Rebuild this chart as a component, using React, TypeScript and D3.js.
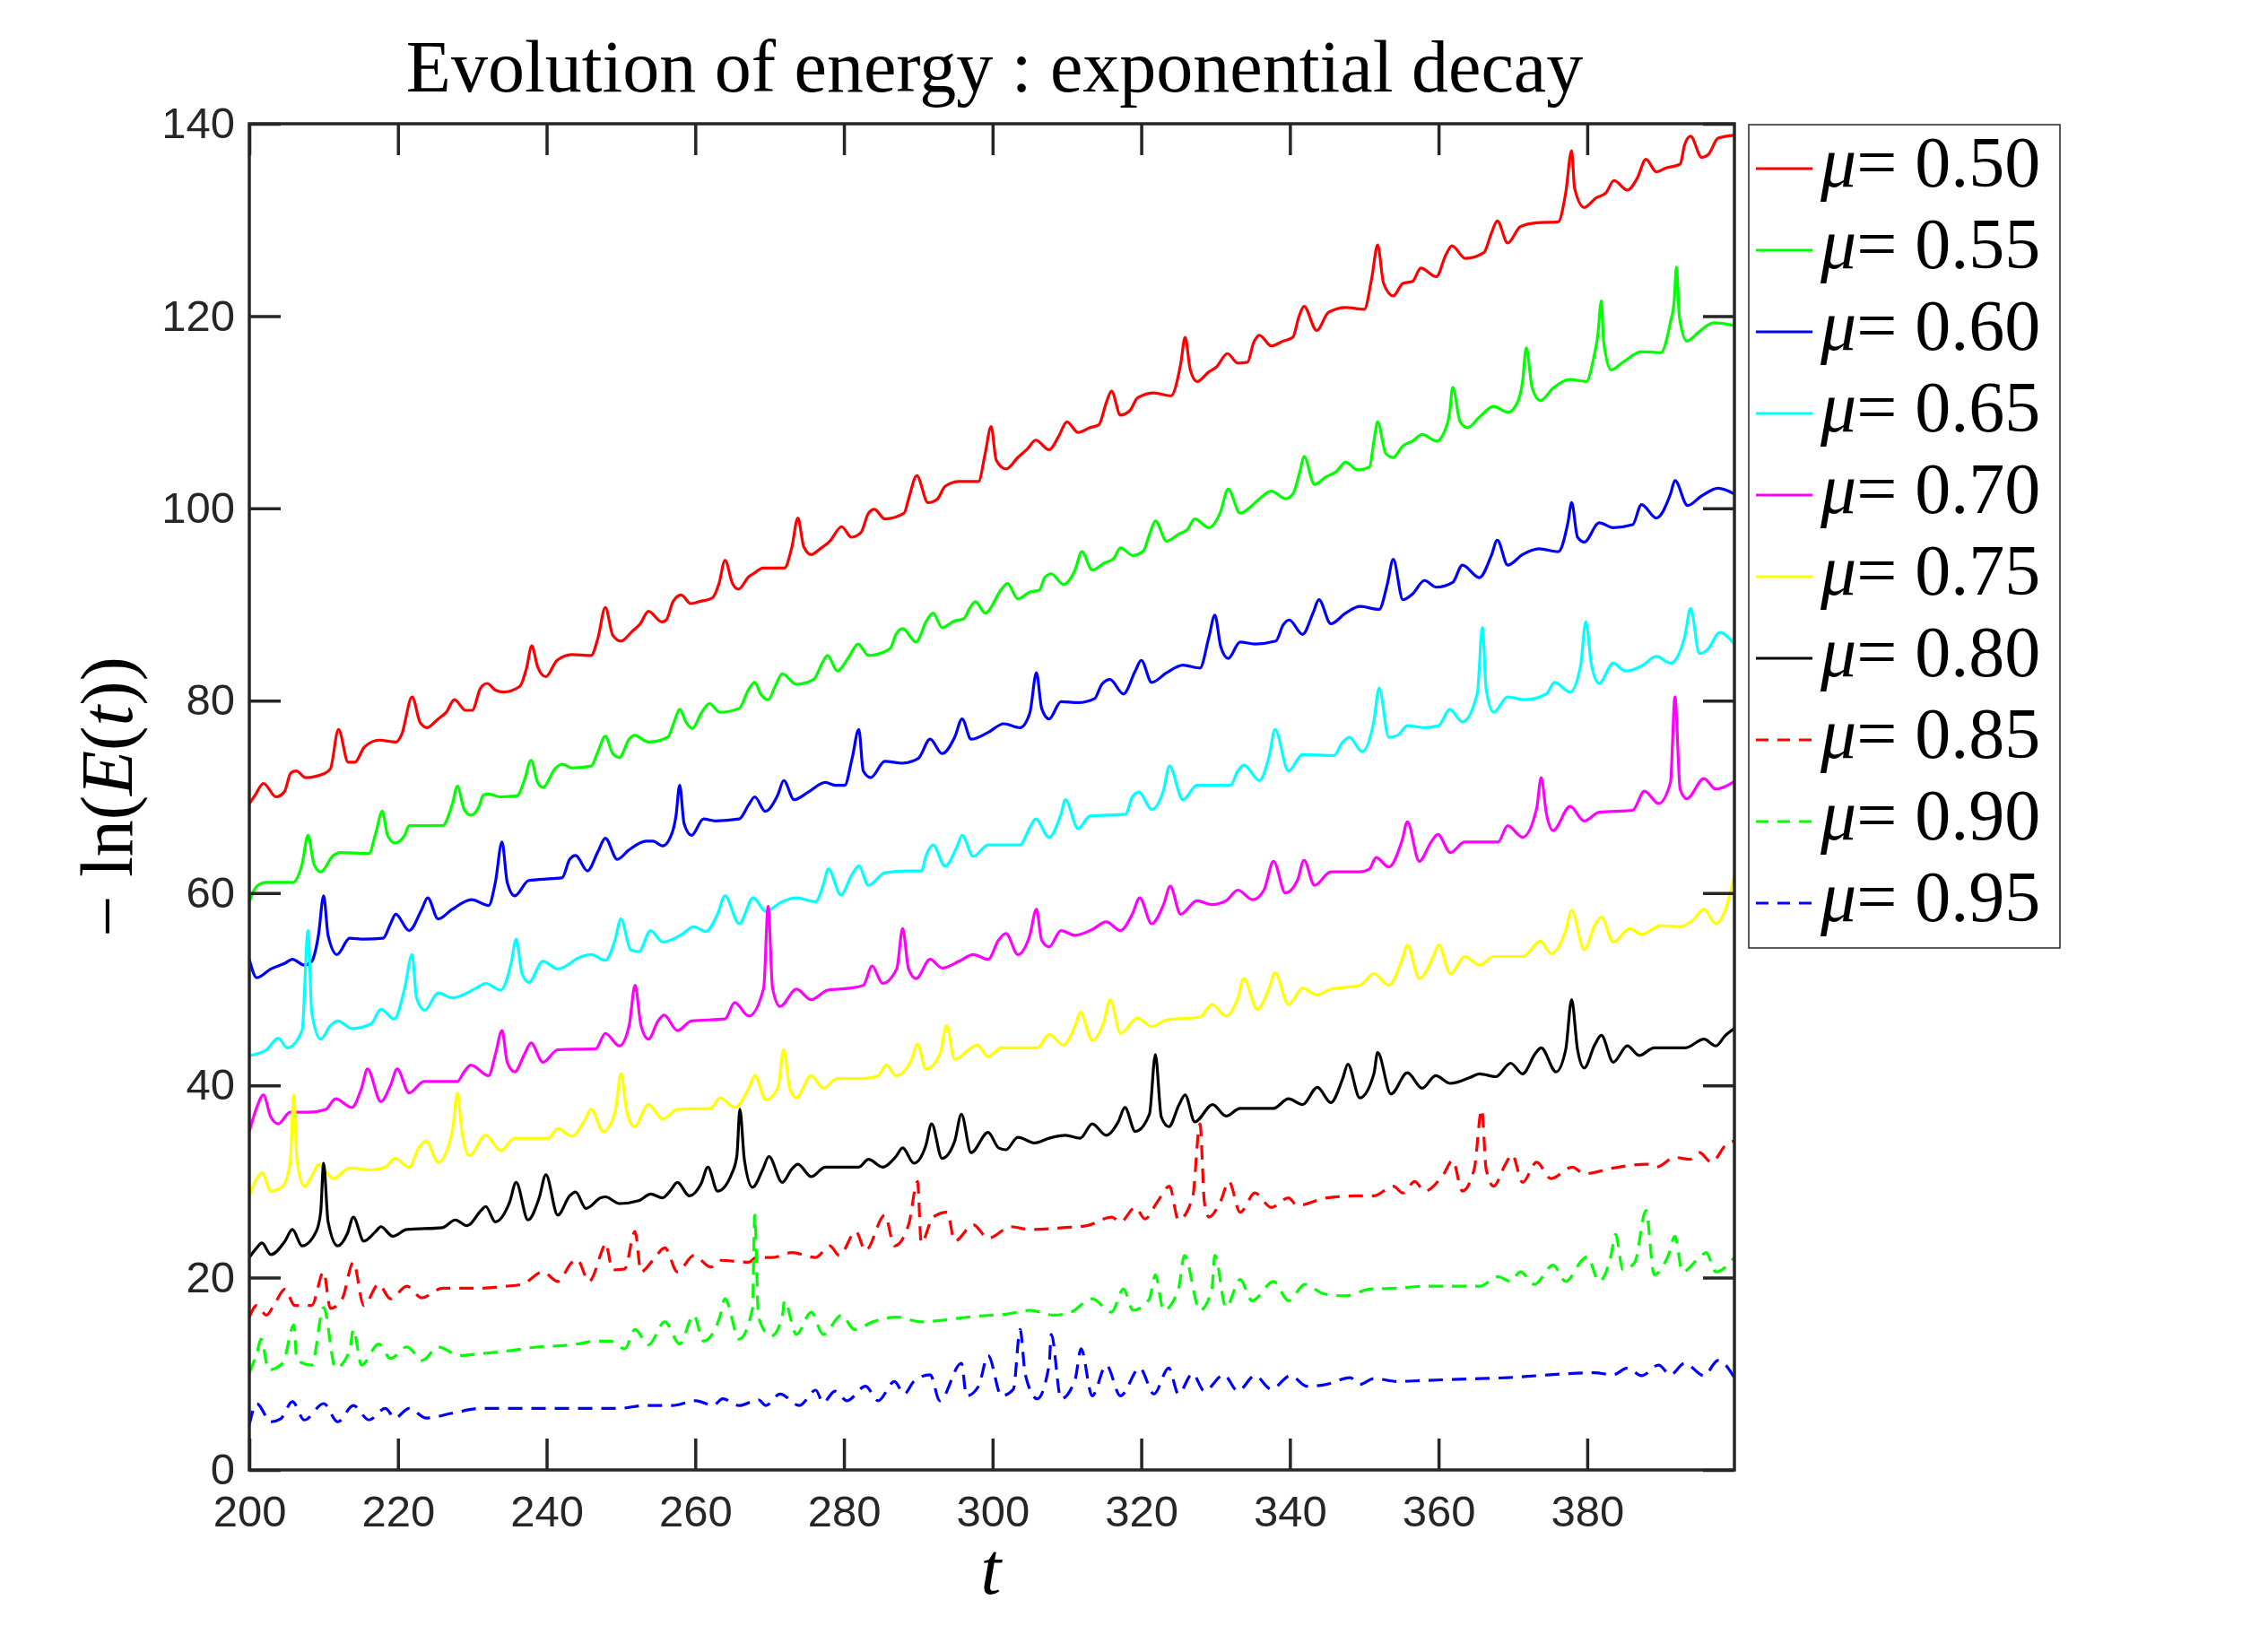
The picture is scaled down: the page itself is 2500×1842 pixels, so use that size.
import React, { useEffect, useRef } from 'react';
import * as d3 from 'd3';

type Pt = [number, number];

// legend labels and ticks
const muLabels = ['0.50', '0.55', '0.60', '0.65', '0.70', '0.75', '0.80', '0.85', '0.90', '0.95'];
const xTicks = [200, 220, 240, 260, 280, 300, 320, 340, 360, 380];
const yTicks = [0, 20, 40, 60, 80, 100, 120, 140];

// -ln(E(t)), [t, value]
const mu050: Pt[] = [[200,69.3],[200.8,70.2],[201.9,71.4],[203.6,70.0],[204.7,70.5],[205.6,72.5],[206.3,72.7],[207.6,72.0],[210.0,72.4],[210.9,72.9],[212.0,77.0],[213.3,73.6],[214.2,73.6],[215.5,75.2],[217.5,75.9],[219.7,75.7],[220.5,76.5],[221.9,80.4],[223.0,77.7],[223.9,77.2],[225.4,78.1],[226.5,78.8],[227.6,80.1],[229.1,79.0],[230.0,79.0],[231.1,81.3],[232.0,81.8],[233.1,81.1],[234.2,80.9],[236.4,81.5],[237.3,83.4],[238.0,85.7],[238.8,83.5],[239.9,82.5],[241.4,84.2],[243.4,84.8],[246.0,84.7],[246.9,86.5],[247.9,89.7],[248.9,86.8],[250.0,86.2],[251.5,87.2],[252.6,88.0],[253.7,89.3],[255.5,88.2],[256.1,88.4],[257.0,90.3],[258.1,91.0],[259.4,90.1],[260.5,90.3],[262.3,90.7],[263.2,92.2],[264.0,94.6],[265.0,92.2],[265.8,91.6],[267.2,92.9],[268.0,93.3],[269.1,93.8],[272.0,93.8],[273.0,96.0],[273.8,99.0],[274.6,96.0],[275.6,95.2],[276.8,95.8],[278.1,96.6],[279.7,98.1],[281.0,97.0],[282.3,97.5],[283.3,99.5],[284.1,99.9],[285.5,98.9],[288.1,99.5],[288.7,101.0],[289.8,103.4],[291.3,100.6],[292.6,101.0],[293.6,102.3],[295.5,102.8],[298.1,102.8],[299.0,105.7],[299.8,108.5],[300.5,105.0],[301.8,104.1],[303.4,105.3],[304.7,106.2],[305.8,107.1],[307.6,106.1],[308.9,107.5],[310.0,109.0],[311.5,107.9],[313.1,108.4],[314.3,108.7],[315.3,111.0],[316.0,112.2],[317.2,109.7],[318.5,110.2],[319.5,111.5],[321.7,112.0],[324.0,111.7],[325.3,115.0],[325.9,117.8],[326.6,114.4],[327.5,113.2],[329.1,114.2],[330.1,114.7],[331.6,116.1],[333.0,115.1],[334.3,115.2],[335.1,117.2],[335.9,118.0],[337.5,116.9],[339.1,117.4],[340.4,117.8],[341.2,119.9],[341.9,121.0],[343.6,118.5],[345.2,120.4],[347.5,120.9],[350.0,120.7],[351.0,123.9],[351.8,127.4],[352.6,123.4],[353.9,122.1],[355.2,123.4],[356.5,123.6],[357.6,125.0],[359.7,124.1],[361.0,126.4],[361.8,127.3],[363.6,126.0],[366.1,126.6],[367.1,128.6],[367.9,129.9],[369.3,127.6],[371.0,129.3],[373.2,129.7],[376.1,129.8],[377.1,132.8],[377.9,137.2],[378.3,133.3],[379.6,131.3],[381.2,132.3],[382.5,132.8],[383.6,134.1],[385.4,133.1],[386.7,134.3],[387.9,136.3],[389.3,135.0],[390.6,135.4],[392.5,135.8],[393.1,137.8],[393.9,138.7],[395.4,136.5],[396.3,136.8],[397.6,138.5],[399.8,138.8]];

const mu055: Pt[] = [[200,59.1],[201.0,60.7],[202.3,61.1],[205.8,61.1],[207.1,63.0],[207.9,66.0],[208.7,63.0],[209.6,62.2],[211.3,63.9],[212.2,64.2],[216.1,64.1],[217.0,66.2],[217.9,68.5],[218.6,66.0],[219.6,65.2],[220.9,66.0],[221.5,67.0],[226.0,67.0],[227.3,69.2],[228.0,71.1],[228.9,68.7],[229.8,68.1],[230.9,69.0],[231.5,70.2],[232.2,70.3],[233.8,70.0],[236.0,70.1],[237.0,71.7],[237.9,73.8],[238.8,71.5],[239.5,71.0],[241.2,73.0],[242.1,73.4],[243.4,73.0],[246.0,73.2],[246.9,74.7],[247.9,76.3],[248.9,74.5],[249.8,74.1],[251.1,76.0],[251.8,76.4],[253.7,75.7],[256.3,76.2],[257.2,77.9],[257.9,79.1],[258.8,77.7],[259.6,77.1],[260.8,78.7],[261.9,79.7],[263.3,78.8],[265.9,79.2],[267.2,81.2],[268.0,81.9],[268.8,80.7],[269.8,80.1],[270.7,81.4],[271.7,82.8],[273.6,81.7],[275.9,82.2],[277.2,84.1],[277.8,84.7],[279.1,83.1],[280.7,84.6],[281.9,85.9],[283.3,84.7],[286.2,85.4],[287.0,86.9],[287.9,87.5],[289.7,86.1],[291.1,88.3],[292.0,89.1],[293.2,87.6],[294.9,88.3],[296.1,88.5],[296.9,89.6],[297.7,90.3],[299.0,89.1],[301.2,91.6],[302.0,92.2],[303.4,90.6],[305.0,91.3],[306.3,91.5],[307.0,92.8],[307.9,93.2],[309.5,92.1],[311.1,93.6],[312.0,95.5],[313.4,93.6],[315.0,94.3],[316.3,94.8],[317.2,95.9],[318.9,95.1],[320.3,95.6],[321.2,97.5],[321.9,98.7],[323.4,96.6],[325.0,97.3],[326.2,97.8],[327.2,98.9],[329.1,98.0],[330.6,99.5],[331.7,102.0],[333.3,99.5],[334.9,100.3],[335.9,101.0],[337.5,101.8],[339.4,101.0],[340.4,101.5],[341.4,104.0],[341.9,105.4],[343.3,102.5],[344.9,103.3],[346.2,103.8],[347.5,104.8],[349.1,104.0],[350.7,104.3],[351.3,107.0],[351.8,109.0],[352.9,105.7],[353.9,105.3],[355.2,106.5],[356.5,107.0],[357.8,107.7],[359.7,107.0],[360.8,108.0],[361.5,110.0],[361.9,112.6],[362.9,109.0],[363.9,108.4],[365.5,109.5],[367.4,110.6],[369.3,110.0],[370.6,111.0],[371.3,113.2],[371.8,116.7],[372.6,112.5],[373.7,111.2],[375.4,112.5],[377.7,113.4],[379.9,113.2],[380.8,115.4],[381.4,117.9],[381.9,121.6],[382.2,117.4],[383.2,114.4],[384.8,115.2],[387.3,116.3],[389.9,116.2],[391.2,119.4],[391.7,121.6],[392.0,125.1],[392.4,119.9],[393.4,117.4],[395.1,118.4],[397.0,119.3],[399.8,119.0]];

const mu060: Pt[] = [[200,53.1],[201.0,51.2],[202.9,52.1],[204.8,52.7],[205.8,53.1],[207.4,52.5],[208.4,52.9],[209.3,55.6],[210.0,59.7],[210.6,55.6],[211.8,53.6],[213.5,55.3],[215.4,55.2],[218.0,55.3],[219.0,56.8],[219.7,57.8],[221.5,56.1],[223.2,58.3],[224.0,59.5],[225.4,57.3],[227.3,58.3],[229.9,59.3],[232.2,58.7],[233.1,61.1],[234.0,65.3],[234.7,61.1],[235.7,59.7],[237.6,61.3],[240.8,61.5],[242.1,61.6],[243.1,63.5],[243.9,63.9],[245.5,62.3],[246.9,64.3],[247.9,65.7],[249.5,63.5],[251.1,64.5],[253.4,65.4],[254.3,65.4],[255.6,64.9],[256.9,66.3],[257.4,68.0],[257.9,71.2],[258.5,67.2],[259.5,66.0],[261.1,67.7],[262.7,67.5],[265.9,67.7],[267.2,69.2],[268.0,70.0],[269.4,68.5],[271.1,70.2],[271.9,71.7],[273.3,69.7],[275.2,70.5],[277.5,71.5],[278.8,71.2],[280.1,71.2],[281.1,74.0],[282.0,77.0],[282.6,72.7],[283.6,72.0],[285.5,73.7],[287.8,73.5],[290.0,74.0],[291.6,76.0],[293.2,74.5],[294.9,76.2],[295.9,78.1],[297.1,76.0],[299.4,76.7],[301.5,77.6],[303.7,77.2],[305.0,78.7],[305.9,82.9],[306.6,79.2],[307.6,78.1],[309.2,79.9],[311.5,79.8],[313.7,80.2],[314.7,81.7],[315.8,82.2],[317.6,80.7],[319.2,83.1],[320.0,84.2],[321.4,81.9],[323.4,82.9],[325.6,83.7],[327.9,83.4],[329.1,86.6],[329.9,88.9],[330.7,85.6],[331.7,84.4],[333.3,86.1],[335.3,85.9],[338.1,86.2],[339.1,87.9],[339.9,88.4],[341.7,86.9],[343.1,89.1],[343.9,90.5],[345.5,88.0],[347.5,89.1],[349.4,89.8],[352.0,89.5],[353.1,92.1],[353.9,94.7],[355.2,90.5],[356.5,91.1],[358.1,92.5],[359.7,91.8],[361.9,92.3],[363.2,94.1],[365.5,92.8],[367.1,95.1],[367.9,96.7],[369.3,94.1],[371.3,95.2],[373.5,95.8],[376.1,95.5],[377.4,98.5],[377.9,100.6],[378.7,97.0],[379.6,96.5],[381.6,98.5],[383.5,98.0],[386.1,98.3],[387.3,100.4],[389.3,99.0],[391.2,101.5],[391.8,102.9],[393.5,100.3],[395.4,101.3],[397.6,102.1],[399.8,101.5]];

const mu065: Pt[] = [[200,43.1],[202.3,43.7],[203.9,44.9],[205.1,43.9],[207.1,45.7],[207.9,56.1],[208.4,47.6],[209.6,44.8],[210.9,46.2],[211.9,46.7],[213.8,45.9],[216.4,46.4],[217.7,47.9],[219.5,46.9],[220.9,50.1],[221.9,53.6],[222.5,49.1],[223.6,47.8],[225.4,49.6],[227.3,49.1],[230.5,50.1],[231.8,50.6],[233.8,49.9],[235.2,52.6],[235.9,55.2],[236.7,51.6],[237.6,50.7],[239.5,52.9],[241.5,52.1],[244.7,53.4],[246.0,53.6],[247.9,53.0],[249.2,55.1],[250.0,57.3],[251.3,54.1],[252.4,53.9],[254.0,56.1],[255.6,54.9],[258.2,55.7],[259.8,56.5],[261.4,56.0],[263.0,57.8],[264.0,59.7],[265.9,56.8],[267.8,59.5],[269.5,58.1],[271.7,59.1],[273.6,59.5],[276.2,59.1],[277.2,60.8],[277.9,62.5],[279.6,59.8],[281.0,61.8],[282.0,62.8],[283.3,60.8],[285.5,62.1],[288.4,62.3],[290.4,62.3],[291.1,64.0],[292.0,65.0],[293.6,62.8],[295.2,64.8],[295.9,66.0],[297.4,63.8],[299.4,65.0],[303.7,65.0],[305.0,66.8],[305.8,67.7],[307.6,65.8],[309.2,68.2],[309.8,69.7],[311.5,66.7],[313.1,68.0],[317.9,68.2],[318.8,70.0],[319.7,70.5],[321.4,68.7],[323.0,70.7],[323.8,73.2],[325.6,69.7],[327.5,71.2],[332.0,71.2],[333.0,72.7],[333.8,73.3],[335.9,71.7],[337.2,74.2],[338.0,77.0],[339.8,72.7],[341.7,74.4],[345.9,74.3],[347.1,75.7],[348.0,76.2],[349.7,74.7],[351.3,77.9],[352.0,81.3],[353.3,76.2],[354.5,76.4],[355.8,77.4],[358.1,77.2],[360.0,77.4],[361.5,79.1],[363.2,77.8],[365.2,80.7],[365.9,87.6],[366.4,81.2],[367.4,78.8],[369.3,80.4],[371.6,80.1],[374.5,80.7],[375.6,81.9],[377.7,80.9],[379.1,83.6],[379.8,88.2],[380.6,83.6],[381.6,81.8],[383.5,83.9],[385.1,83.1],[387.3,83.6],[389.3,84.6],[391.2,83.9],[393.1,86.6],[393.9,89.6],[395.1,84.9],[396.3,85.4],[397.8,87.1],[399.8,85.9]];

const mu070: Pt[] = [[200,35.2],[201.0,37.7],[201.9,39.0],[202.9,36.7],[203.9,36.0],[205.5,37.2],[208.0,37.2],[210.3,37.5],[211.6,38.6],[213.8,37.7],[215.1,39.7],[215.9,41.7],[217.7,38.3],[219.0,40.0],[219.9,41.7],[221.5,39.2],[223.5,40.4],[228.0,40.4],[228.9,41.4],[229.8,42.1],[232.2,41.0],[233.1,43.2],[234.0,45.7],[234.7,42.4],[235.7,41.4],[237.0,43.2],[237.9,44.4],[239.5,42.4],[241.5,43.7],[246.6,43.8],[247.9,45.4],[249.8,44.1],[251.1,46.2],[251.9,50.4],[252.7,46.2],[253.7,44.8],[255.0,46.7],[255.8,47.3],[257.6,45.7],[259.5,46.7],[264.0,46.9],[265.3,48.6],[267.2,47.2],[269.2,50.1],[269.8,58.6],[270.4,50.1],[271.4,48.2],[273.6,50.0],[275.6,48.9],[277.8,49.9],[280.7,50.1],[282.6,50.4],[283.8,52.4],[285.2,50.6],[287.1,52.1],[287.9,56.3],[288.7,52.1],[289.7,51.1],[291.6,53.1],[293.2,52.2],[295.5,52.9],[297.4,53.6],[299.4,53.1],[300.8,55.1],[301.8,55.8],[303.4,53.6],[305.0,55.6],[305.9,58.3],[306.6,55.1],[307.6,54.4],[309.2,56.1],[311.1,55.6],[313.4,56.2],[315.3,57.0],[317.2,56.1],[318.8,57.8],[319.8,59.5],[321.4,56.8],[323.0,58.8],[323.9,60.7],[325.3,57.8],[327.5,59.2],[329.5,58.8],[331.4,59.2],[333.0,60.3],[335.0,59.3],[336.5,60.3],[337.8,63.3],[339.4,60.0],[341.0,61.3],[341.9,63.4],[343.3,60.8],[345.5,62.2],[349.4,62.2],[350.7,62.5],[351.6,63.7],[353.3,62.7],[355.1,65.5],[355.8,67.4],[357.4,63.3],[359.0,65.3],[359.9,66.1],[361.6,64.2],[363.5,65.3],[368.0,65.3],[369.3,67.0],[371.3,65.8],[373.2,68.8],[373.8,72.0],[374.5,68.3],[375.4,66.5],[377.7,69.0],[379.6,67.5],[381.6,68.4],[386.1,68.6],[387.7,70.6],[389.6,69.3],[391.2,71.5],[391.8,80.4],[392.5,70.8],[393.4,69.8],[395.7,71.9],[397.3,70.8],[399.8,71.6]];

const mu075: Pt[] = [[200,28.5],[201.0,30.3],[201.7,30.9],[202.9,29.0],[204.5,29.5],[205.5,32.0],[206.0,39.0],[206.4,32.2],[207.4,29.5],[208.7,31.0],[209.3,31.8],[211.3,30.3],[213.5,31.4],[216.4,31.2],[218.3,31.5],[219.6,32.4],[221.5,31.5],[222.8,33.5],[223.8,34.2],[225.4,32.0],[227.3,35.2],[228.0,39.2],[228.6,35.2],[229.6,32.7],[231.8,34.8],[233.8,33.2],[235.7,34.5],[240.2,34.5],[241.5,35.5],[243.4,34.7],[245.0,36.2],[246.0,37.5],[247.6,35.2],[249.2,37.2],[250.0,41.2],[250.8,37.2],[251.8,35.7],[253.7,38.0],[255.6,36.5],[257.6,37.5],[262.1,37.6],[263.3,38.7],[265.3,37.7],[267.2,39.7],[268.0,41.0],[269.5,38.5],[271.1,39.7],[271.9,43.7],[272.7,39.7],[273.6,38.7],[275.6,41.0],[277.2,39.7],[279.1,40.7],[282.6,40.7],[284.6,41.0],[285.7,42.1],[287.0,41.0],[289.1,42.7],[289.9,44.3],[291.0,41.7],[292.9,43.2],[293.8,46.2],[294.9,42.7],[296.8,43.7],[297.9,44.2],[299.4,43.0],[301.2,43.9],[306.0,43.9],[307.6,45.3],[309.5,44.2],[311.1,46.2],[311.8,47.6],[313.4,44.7],[315.0,46.7],[315.8,48.9],[317.2,45.4],[319.5,47.0],[321.4,46.1],[323.4,46.8],[327.9,47.1],[329.5,48.4],[331.4,47.2],[333.0,49.1],[333.8,51.1],[335.6,47.9],[337.2,50.1],[338.0,51.7],[339.8,48.4],[341.7,50.1],[343.6,49.4],[345.5,50.0],[349.4,50.4],[351.3,51.6],[353.3,50.4],[355.1,53.1],[355.8,54.6],[357.4,51.1],[359.4,53.6],[360.0,54.6],[361.6,51.6],[363.5,53.4],[365.5,52.5],[367.4,53.4],[371.3,53.4],[373.7,55.0],[375.1,53.7],[377.1,56.1],[377.9,58.2],[379.6,54.1],[381.0,56.6],[381.9,57.5],[383.5,54.9],[385.7,56.3],[387.3,55.7],[389.9,56.6],[392.5,56.5],[394.1,57.1],[395.7,58.3],[397.3,56.8],[398.6,58.3],[399.8,61.8]];

const mu080: Pt[] = [[200,22.1],[201.0,23.1],[201.7,23.6],[202.9,22.4],[204.8,23.8],[205.8,25.0],[207.1,23.3],[209.0,24.8],[209.6,26.8],[210.0,31.9],[210.6,25.8],[211.9,23.3],[213.2,24.6],[214.0,26.3],[215.4,23.8],[217.0,24.8],[217.7,25.3],[219.3,24.3],[221.2,25.0],[226.0,25.2],[227.7,26.0],[229.3,25.4],[231.2,27.0],[231.8,27.4],[233.1,25.8],[235.0,27.8],[235.9,29.9],[237.5,26.0],[239.0,28.3],[239.9,30.7],[241.5,26.5],[243.1,28.5],[243.9,28.9],[245.3,27.2],[247.3,28.3],[247.9,28.4],[249.8,27.7],[252.4,28.0],[254.0,28.7],[255.6,28.3],[256.6,29.0],[257.6,29.9],[259.2,28.5],[260.8,29.8],[261.7,31.5],[263.0,29.0],[264.9,30.8],[265.6,32.7],[266.0,37.5],[266.6,32.3],[267.7,29.4],[269.1,31.3],[269.9,32.6],[271.7,29.9],[273.0,31.3],[273.8,31.8],[275.6,30.5],[277.5,31.5],[282.0,31.5],[283.3,32.3],[285.2,31.5],[287.0,32.6],[287.9,33.5],[289.4,31.9],[291.0,33.7],[291.8,36.0],[293.2,32.4],[294.9,34.2],[295.8,37.0],[297.1,33.0],[299.4,35.1],[300.8,33.5],[301.8,33.3],[303.4,34.6],[305.7,34.0],[307.6,34.5],[309.8,34.8],[311.8,34.5],[313.4,36.0],[315.3,34.8],[316.9,36.2],[317.8,37.7],[319.2,35.2],[321.1,37.0],[321.9,43.2],[322.7,36.7],[323.7,35.7],[325.1,38.0],[325.9,39.0],[327.2,36.2],[329.6,38.0],[331.4,36.8],[333.3,37.6],[337.8,37.6],[339.8,38.6],[341.7,38.0],[343.7,39.8],[345.5,38.2],[347.1,40.7],[347.8,42.2],[349.4,38.7],[351.3,41.2],[351.8,43.4],[353.6,39.1],[355.8,41.3],[357.8,39.7],[359.6,41.0],[361.6,40.2],[364.2,40.8],[365.5,41.2],[367.7,40.9],[369.7,42.3],[371.3,41.2],[373.1,43.4],[373.8,43.9],[375.8,41.4],[377.1,43.7],[377.9,48.9],[378.7,43.7],[379.6,41.8],[381.0,44.2],[381.9,45.2],[383.5,42.4],[385.4,44.1],[387.0,43.1],[389.0,43.9],[393.2,43.9],[395.7,44.8],[397.3,44.1],[398.6,45.2],[399.8,45.9]];

const mu085: Pt[] = [[200,15.9],[201.0,17.1],[202.3,16.1],[203.5,17.4],[204.8,18.8],[206.1,17.1],[208.4,17.1],[210.0,20.6],[210.9,16.8],[212.5,17.8],[214.0,21.6],[215.4,17.1],[217.4,19.3],[219.0,17.8],[221.2,19.1],[223.2,17.9],[226.0,18.9],[231.2,18.9],[234.4,19.1],[236.7,19.3],[239.5,20.6],[241.5,19.6],[243.4,21.6],[244.1,21.9],[245.7,19.6],[247.6,23.1],[247.9,23.6],[248.9,20.8],[250.5,20.9],[251.9,24.8],[252.7,20.6],[254.3,21.8],[255.9,23.1],[257.6,20.6],[259.8,22.3],[262.1,21.1],[263.3,21.8],[267.2,21.6],[268.2,22.1],[270.4,22.1],[273.0,22.6],[276.2,22.1],[278.1,23.3],[279.4,22.3],[281.6,24.8],[282.9,22.8],[285.5,26.5],[286.8,23.3],[288.7,25.5],[289.9,30.0],[290.4,23.6],[292.0,26.3],[293.9,26.8],[294.9,23.8],[297.4,25.5],[299.4,24.1],[302.5,25.3],[305.0,25.0],[309.5,25.2],[312.7,25.4],[316.0,26.3],[317.2,25.8],[319.2,27.3],[320.5,26.1],[322.1,27.8],[323.8,29.5],[325.0,26.0],[326.9,28.3],[327.9,36.0],[328.5,27.8],[329.1,26.3],[330.7,28.0],[331.8,30.0],[333.3,26.8],[335.3,28.8],[337.5,27.3],[339.8,28.3],[341.0,27.5],[344.9,28.3],[348.8,28.5],[351.3,28.5],[353.9,29.5],[355.2,28.8],[356.8,30.0],[358.1,29.0],[360.7,30.8],[361.9,32.2],[363.2,29.0],[364.8,31.3],[365.8,37.5],[366.4,31.3],[367.4,29.5],[369.0,31.8],[369.9,32.8],[371.3,29.9],[373.2,32.0],[375.1,30.3],[378.0,31.5],[379.6,30.8],[383.5,31.4],[388.0,31.8],[389.3,31.5],[391.8,32.5],[393.8,32.3],[395.1,33.0],[396.7,32.0],[398.9,34.0],[399.8,34.2]];

const mu090: Pt[] = [[200,10.1],[201.0,12.1],[201.6,13.6],[202.6,10.4],[204.5,11.1],[206.0,15.1],[206.4,11.4],[208.4,10.9],[210.0,16.9],[211.6,10.6],[213.5,12.4],[214.0,14.6],[215.1,10.9],[217.4,13.1],[219.0,11.6],[221.2,12.8],[223.3,11.4],[225.4,12.8],[228.3,11.9],[231.2,12.1],[235.0,12.4],[238.9,12.8],[241.5,12.9],[244.1,13.1],[246.6,13.4],[248.5,13.4],[250.5,12.6],[251.9,14.6],[253.7,13.0],[255.9,15.4],[257.9,13.1],[259.8,16.1],[261.1,13.4],[263.3,15.9],[264.0,17.8],[265.9,13.6],[267.7,16.8],[268.0,26.5],[268.5,15.9],[270.2,13.9],[271.7,15.9],[272.0,17.6],[273.6,14.1],[275.6,16.4],[277.2,14.1],[279.7,16.1],[281.4,14.6],[283.9,15.4],[287.1,15.9],[290.4,15.4],[293.6,15.6],[296.8,15.9],[299.9,16.1],[301.8,16.2],[305.0,16.6],[308.2,16.1],[310.5,16.4],[313.4,17.8],[316.0,16.4],[317.6,18.8],[318.9,16.6],[321.1,17.8],[321.9,20.3],[323.0,16.6],[325.0,18.8],[325.8,22.3],[327.9,16.6],[329.5,18.8],[329.9,22.3],[331.4,16.9],[333.3,19.8],[334.9,17.6],[337.8,19.6],[339.8,17.6],[342.0,19.3],[344.6,18.3],[347.5,18.1],[350.7,18.8],[354.5,18.9],[357.8,19.1],[361.6,19.1],[365.5,19.1],[368.0,20.1],[369.7,19.6],[371.0,20.6],[372.9,19.3],[375.4,21.3],[377.1,19.6],[379.3,21.8],[380.0,22.2],[381.6,19.6],[383.2,22.3],[383.8,24.5],[384.8,20.8],[386.4,21.6],[387.9,27.0],[389.0,20.3],[390.9,22.3],[391.8,24.3],[392.8,20.6],[395.1,22.1],[396.0,22.6],[397.3,20.6],[398.9,21.3],[399.8,22.1]];

const mu095: Pt[] = [[200,4.7],[201.0,6.9],[202.9,5.0],[204.2,5.3],[205.8,7.1],[207.4,5.2],[210.0,6.9],[211.9,5.0],[214.0,6.7],[216.1,5.2],[218.3,6.4],[219.6,5.4],[221.5,6.4],[223.8,5.4],[227.3,5.9],[231.2,6.4],[235.0,6.4],[238.9,6.4],[242.8,6.4],[246.0,6.4],[249.8,6.4],[253.1,6.7],[256.9,6.7],[260.1,7.2],[262.4,6.7],[263.7,7.4],[265.9,6.7],[268.5,7.3],[269.5,6.7],[271.4,7.9],[274.0,6.7],[276.2,8.3],[277.2,7.0],[278.8,8.2],[280.4,7.2],[282.9,8.7],[284.6,7.2],[286.8,9.2],[288.1,7.9],[289.4,9.2],[291.6,9.9],[292.9,7.2],[295.8,11.1],[296.5,7.7],[298.1,8.7],[299.4,11.9],[301.2,7.7],[302.8,8.4],[303.7,14.6],[304.4,9.9],[306.0,7.4],[307.6,10.9],[307.9,14.1],[309.2,7.4],[311.1,9.4],[311.9,12.6],[313.4,7.7],[315.3,10.9],[317.2,7.7],[319.8,10.6],[321.7,7.9],[323.7,10.6],[325.0,7.9],[326.9,10.0],[328.5,8.2],[331.1,9.9],[333.0,8.2],[335.3,9.8],[337.5,8.4],[340.1,9.8],[342.3,8.7],[344.9,8.9],[348.1,9.6],[349.4,8.9],[351.3,9.5],[354.5,9.2],[357.8,9.3],[361.6,9.4],[365.5,9.5],[369.3,9.6],[373.2,9.8],[377.1,10.0],[380.9,10.1],[383.5,9.9],[385.4,10.6],[387.3,9.8],[389.6,10.9],[391.2,9.9],[393.1,11.1],[395.7,9.8],[397.6,11.4],[399.8,9.6]];

const seriesValues: Pt[][] = [mu050, mu055, mu060, mu065, mu070, mu075, mu080, mu085, mu090, mu095];

const LINE_COLORS = ['#ff0000', '#00ff00', '#0000ff', '#00ffff', '#ff00ff', '#ffff00', '#000000', '#ff0000', '#00ff00', '#0000ff'];
const DASHED = [false, false, false, false, false, false, false, true, true, true];

const WIDTH = 2500;
const HEIGHT = 1842;
const AX_COLOR = '#262626';
const SERIF = '"Liberation Serif", "Times New Roman", serif';
const SANS = '"Liberation Sans", Arial, Helvetica, sans-serif';

const EnergyDecayChart: React.FC = () => {
  const svgRef = useRef<SVGSVGElement | null>(null);

  useEffect(() => {
    if (!svgRef.current) return;
    const svg = d3.select(svgRef.current);
    svg.selectAll('*').remove();

    const plot = { left: 278, right: 1934, top: 138, bottom: 1639 };

    const xScale = d3.scaleLinear().domain([200, 399.8]).range([plot.left, plot.right]);
    const yScale = d3.scaleLinear().domain([0, 140]).range([plot.bottom, plot.top]);

    svg.append('rect').attr('width', WIDTH).attr('height', HEIGHT).attr('fill', '#ffffff');

    svg.append('defs').append('clipPath').attr('id', 'plot-clip')
      .append('rect')
      .attr('x', plot.left).attr('y', plot.top)
      .attr('width', plot.right - plot.left).attr('height', plot.bottom - plot.top);

    // curves (monotone so the bumps stay rounded like the original)
    const line = d3.line<Pt>()
      .x(d => xScale(d[0]))
      .y(d => yScale(d[1]))
      .curve(d3.curveMonotoneX);

    const lines = svg.append('g').attr('clip-path', 'url(#plot-clip)');
    seriesValues.forEach((vals, i) => {
      lines.append('path')
        .datum(vals)
        .attr('d', line)
        .attr('fill', 'none')
        .attr('stroke', LINE_COLORS[i])
        .attr('stroke-width', 3.2)
        .attr('stroke-linejoin', 'round')
        .attr('stroke-dasharray', DASHED[i] ? '16 10' : null);
    });

    // axes (ticks pointing inward, box on)
    const styleAxis = (g: d3.Selection<SVGGElement, unknown, null, undefined>) => {
      g.select('.domain').remove();
      g.selectAll('.tick line').attr('stroke', AX_COLOR).attr('stroke-width', 3.5);
      g.selectAll('.tick text')
        .attr('fill', AX_COLOR)
        .style('font-family', SANS)
        .style('font-size', '49px');
    };

    svg.append('g')
      .attr('transform', `translate(0,${plot.bottom})`)
      .call(d3.axisBottom(xScale).tickValues(xTicks).tickSize(-35).tickSizeOuter(0).tickPadding(28))
      .call(styleAxis);

    svg.append('g')
      .attr('transform', `translate(0,${plot.top})`)
      .call(d3.axisTop(xScale).tickValues(xTicks).tickSize(-35).tickSizeOuter(0).tickFormat(() => ''))
      .call(styleAxis);

    svg.append('g')
      .attr('transform', `translate(${plot.left},0)`)
      .call(d3.axisLeft(yScale).tickValues(yTicks).tickSize(-35).tickSizeOuter(0).tickPadding(16))
      .call(styleAxis);

    svg.append('g')
      .attr('transform', `translate(${plot.right},0)`)
      .call(d3.axisRight(yScale).tickValues(yTicks).tickSize(-35).tickSizeOuter(0).tickFormat(() => ''))
      .call(styleAxis);

    svg.append('rect')
      .attr('x', plot.left).attr('y', plot.top)
      .attr('width', plot.right - plot.left).attr('height', plot.bottom - plot.top)
      .attr('fill', 'none')
      .attr('stroke', AX_COLOR)
      .attr('stroke-width', 3.5);

    // title and axis labels
    svg.append('text')
      .attr('x', 1109).attr('y', 102)
      .attr('text-anchor', 'middle')
      .style('font-family', SERIF)
      .style('font-size', '82px')
      .attr('fill', '#000')
      .text('Evolution of energy : exponential decay');

    const xl = svg.append('text')
      .attr('x', 1105).attr('y', 1777)
      .attr('text-anchor', 'middle')
      .style('font-family', SERIF)
      .style('font-size', '82px')
      .attr('fill', '#000');
    xl.append('tspan').style('font-style', 'italic').text('t');

    const yl = svg.append('text')
      .attr('transform', `translate(147,${(plot.top + plot.bottom) / 2}) rotate(-90)`)
      .attr('text-anchor', 'middle')
      .style('font-family', SERIF)
      .style('font-size', '82px')
      .attr('fill', '#000');
    yl.append('tspan').text('\u2212 ln(');
    yl.append('tspan').style('font-style', 'italic').text('E');
    yl.append('tspan').text('(');
    yl.append('tspan').style('font-style', 'italic').text('t');
    yl.append('tspan').text('))');

    // legend
    const legend = svg.append('g');
    legend.append('rect')
      .attr('x', 1950).attr('y', 139)
      .attr('width', 347).attr('height', 918)
      .attr('fill', '#ffffff')
      .attr('stroke', AX_COLOR)
      .attr('stroke-width', 1.5);

    const rowY = d3.scaleLinear().domain([0, 1]).range([188, 279]);
    muLabels.forEach((lab, i) => {
      const y = rowY(i);
      legend.append('line')
        .attr('x1', 1958).attr('x2', 2021)
        .attr('y1', y).attr('y2', y)
        .attr('stroke', LINE_COLORS[i])
        .attr('stroke-width', 3.2)
        .attr('stroke-dasharray', DASHED[i] ? '14 10' : null);
      const t = legend.append('text')
        .attr('x', 2030).attr('y', y + 20)
        .style('font-family', SERIF)
        .style('font-size', '80px')
        .attr('fill', '#000');
      t.append('tspan').style('font-style', 'italic').text('\u03bc');
      t.append('tspan').text('= ' + lab);
    });
  }, []);

  return (
    <svg
      ref={svgRef}
      width={WIDTH}
      height={HEIGHT}
      style={{ position: 'absolute', left: 0, top: 0, display: 'block' }}
    />
  );
};

export default function App() {
  return <EnergyDecayChart />;
}
